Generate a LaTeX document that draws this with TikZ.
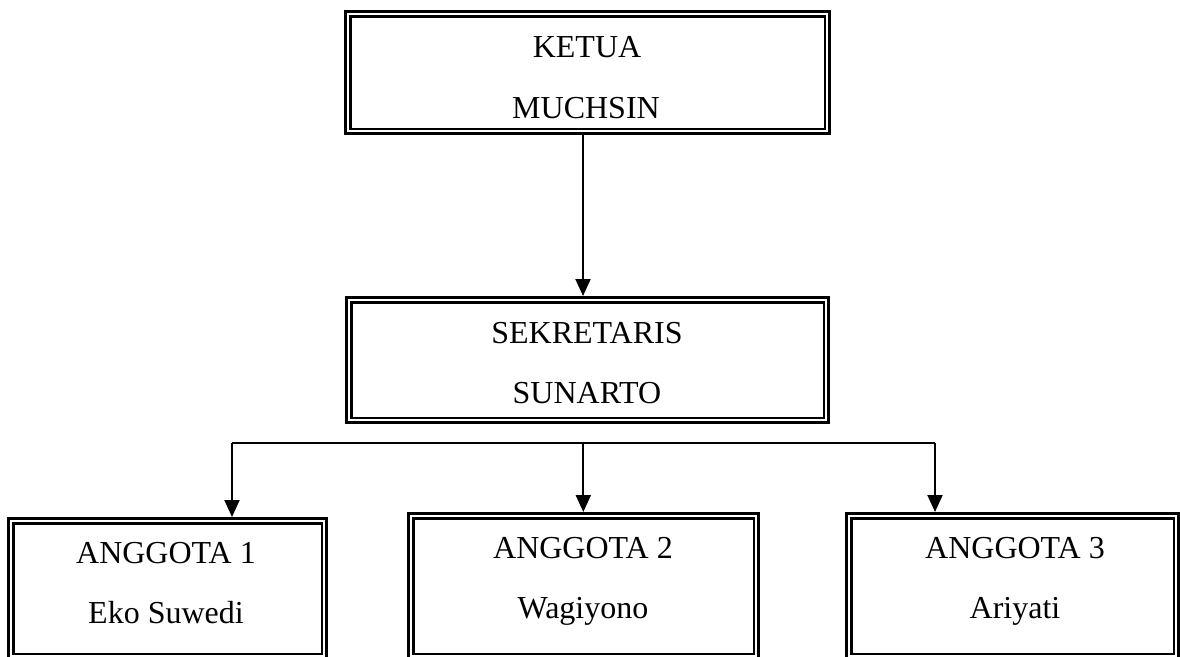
\documentclass[tikz,border=0pt]{standalone}
\usepackage{fontspec}
\setmainfont{Liberation Serif}
\usetikzlibrary{arrows.meta}
\begin{document}
\begin{tikzpicture}[x=1pt,y=-1pt,
  obox/.style={draw, line width=3pt, inner sep=0pt, outer sep=1.5pt},
  ibox/.style={line width=2.4pt},
  lbl/.style={anchor=base, font=\fontsize{32}{38}\selectfont, inner sep=0pt},
  conn/.style={line width=2pt},
  arr/.style={conn, -{Triangle[width=15pt,length=17pt]}}
]
\useasboundingbox (0,0) rectangle (1180,656);
\clip (0,0) rectangle (1180,656);

% boxes
\node[obox, minimum width=484pt, minimum height=122pt] (ketua) at (587.5,72.5) {};
\node[obox, minimum width=482pt, minimum height=125pt] (sek) at (587.5,360) {};
\node[obox, minimum width=318pt, minimum height=140.5pt] (a1) at (167.5,588.75) {};
\node[obox, minimum width=350pt, minimum height=145.5pt] (a2) at (583.5,586.25) {};
\node[obox, minimum width=332pt, minimum height=145.5pt] (a3) at (1012.5,586.25) {};

\foreach \b in {ketua,sek,a1,a2,a3}{
  \draw[ibox] ([shift={(6.3,6.3)}]\b.north west) rectangle ([shift={(-6.3,-6.3)}]\b.south east);
}

% texts
\node[lbl] (t1) at (587,57) {KETUA};
\node[lbl] (t2) at (586,118) {MUCHSIN};
\node[lbl] (t3) at (587,343) {SEKRETARIS};
\node[lbl] (t4) at (587,403) {SUNARTO};
\node[lbl] (t5) at (166,563) {ANGGOTA 1};
\node[lbl] (t6) at (166,623) {Eko Suwedi};
\node[lbl] (t7) at (583,558) {ANGGOTA 2};
\node[lbl] (t8) at (583,618) {Wagiyono};
\node[lbl] (t9) at (1015,558) {ANGGOTA 3};
\node[lbl] (t10) at (1015,618) {Ariyati};

% connectors
\draw[arr] ([xshift=-4.5pt]ketua.south) -- ([xshift=-4.5pt]sek.north);
\coordinate (j1) at (232,443);
\coordinate (j2) at (583.3,443);
\coordinate (j3) at (935,443);
\draw[conn] (j1) -- (j3);
\draw[arr] (j1) -- (j1 |- a1.north);
\draw[arr] (j2) -- (j2 |- a2.north);
\draw[arr] (j3) -- (j3 |- a3.north);
\end{tikzpicture}
\end{document}
